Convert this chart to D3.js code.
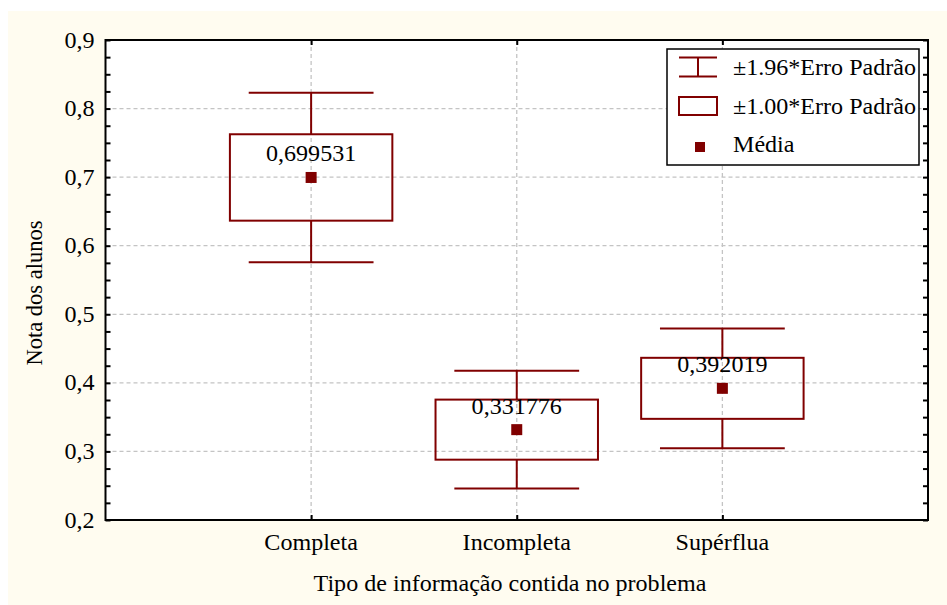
<!DOCTYPE html>
<html>
<head>
<meta charset="utf-8">
<script src="https://cdn.jsdelivr.net/npm/d3@7"></script>
<style>
  html, body { margin: 0; padding: 0; background: #fff; }
  svg { display: block; }
</style>
</head>
<body>
<div id="vis"></div>
<script>
// values
var categories = ['Completa', 'Incompleta', 'Supérflua'];
var means = [0.699531, 0.331776, 0.392019];
var stdErrors = [0.063, 0.0438, 0.0445];
var yTicks = [0.2, 0.3, 0.4, 0.5, 0.6, 0.7, 0.8, 0.9];
var legendLabels = ['±1.96*Erro Padrão', '±1.00*Erro Padrão', 'Média'];
var whiskerMult = 1.96;
var boxMult = 1.0;

var width = 947;
var height = 605;
var margin = { top: 40, left: 105.5, bottom: 85, right: 19 };
var innerW = width - margin.left - margin.right;
var innerH = height - margin.top - margin.bottom;

var red = '#800000';
var fontFamily = '"Liberation Serif", "Times New Roman", serif';
var fontSize = 22.5;
var sx = 1.07; // the original text is a bit wide

var ptBR = d3.formatLocale({ decimal: ',', thousands: '.', grouping: [3], currency: ['', ''] });
var fmtTick = ptBR.format('.1f');
var fmtMean = ptBR.format('.6f');

var svg = d3.select('#vis').append('svg')
  .attr('width', width)
  .attr('height', height);

// cream page background
svg.append('rect')
  .attr('x', 8)
  .attr('y', 11)
  .attr('width', width - 8)
  .attr('height', height - 11)
  .attr('fill', '#fffcf0');

var g = svg.append('g')
  .attr('transform', 'translate(' + margin.left + ',' + margin.top + ')');

var x = d3.scalePoint().domain(categories).range([0, innerW]).padding(1);
var y = d3.scaleLinear().domain([0.2, 0.9]).range([innerH, 0]);

g.append('rect')
  .attr('width', innerW)
  .attr('height', innerH)
  .attr('fill', '#fff');

// dashed grid
g.selectAll('.hgrid')
  .data(yTicks.slice(1, -1))
  .enter()
  .append('line')
  .attr('class', 'hgrid')
  .attr('x1', 0)
  .attr('x2', innerW)
  .attr('y1', (d) => y(d))
  .attr('y2', (d) => y(d));

g.selectAll('.vgrid')
  .data(categories)
  .enter()
  .append('line')
  .attr('class', 'vgrid')
  .attr('x1', (d) => x(d))
  .attr('x2', (d) => x(d))
  .attr('y1', 0)
  .attr('y2', innerH);

g.selectAll('.hgrid, .vgrid')
  .attr('stroke', '#c4c4c4')
  .attr('stroke-width', 1.3)
  .attr('stroke-dasharray', '4,3');

// inward ticks on all four sides
var minorTicks = d3.range(0, 29).map((i) => 0.2 + i * 0.025);

function tickAxis(axis, tx, ty) {
  var a = g.append('g')
    .attr('transform', 'translate(' + tx + ',' + ty + ')')
    .call(axis.tickSizeInner(-5).tickSizeOuter(0).tickFormat(''));
  a.select('.domain').remove();
  a.selectAll('line').attr('stroke', '#000').attr('stroke-width', 2);
}

tickAxis(d3.axisLeft(y).tickValues(minorTicks), 0, 0);
tickAxis(d3.axisRight(y).tickValues(minorTicks), innerW, 0);
tickAxis(d3.axisTop(x), 0, 0);
tickAxis(d3.axisBottom(x), 0, innerH);

g.append('rect')
  .attr('width', innerW)
  .attr('height', innerH)
  .attr('fill', 'none')
  .attr('stroke', '#000')
  .attr('stroke-width', 2);

function addText(parent, txt, px, py, anchor) {
  return parent.append('text')
    .attr('transform', 'translate(' + px + ',' + py + ') scale(' + sx + ',1)')
    .attr('text-anchor', anchor)
    .attr('font-family', fontFamily)
    .attr('font-size', fontSize)
    .attr('fill', '#000')
    .text(txt);
}

// y tick labels
yTicks.forEach(function (t) {
  addText(g, fmtTick(t), -11, y(t) + 7.5, 'end');
});

// category labels
categories.forEach(function (c) {
  addText(g, c, x(c), innerH + 30, 'middle');
});

// axis titles
addText(svg, 'Tipo de informação contida no problema', 510, 591, 'middle');

svg.append('text')
  .attr('transform', 'translate(42,293) rotate(-90)')
  .attr('text-anchor', 'middle')
  .attr('font-family', fontFamily)
  .attr('font-size', fontSize)
  .text('Nota dos alunos');

// boxes, whiskers and means
var boxW = x.step() * 0.79;
var capW = x.step() * 0.607;

categories.forEach(function (c, i) {
  var cx = x(c);
  var m = means[i];
  var se = stdErrors[i];
  var boxTop = y(m + boxMult * se);
  var boxBot = y(m - boxMult * se);
  var wTop = y(m + whiskerMult * se);
  var wBot = y(m - whiskerMult * se);

  var bg = g.append('g')
    .attr('fill', 'none')
    .attr('stroke', red)
    .attr('stroke-width', 2);

  bg.append('line').attr('x1', cx).attr('x2', cx).attr('y1', wTop).attr('y2', boxTop);
  bg.append('line').attr('x1', cx).attr('x2', cx).attr('y1', boxBot).attr('y2', wBot);
  bg.append('line').attr('x1', cx - capW / 2).attr('x2', cx + capW / 2).attr('y1', wTop).attr('y2', wTop);
  bg.append('line').attr('x1', cx - capW / 2).attr('x2', cx + capW / 2).attr('y1', wBot).attr('y2', wBot);

  bg.append('rect')
    .attr('x', cx - boxW / 2)
    .attr('y', boxTop)
    .attr('width', boxW)
    .attr('height', boxBot - boxTop);

  g.append('rect')
    .attr('x', cx - 5.5)
    .attr('y', y(m) - 5.5)
    .attr('width', 11)
    .attr('height', 11)
    .attr('fill', red);

  addText(g, fmtMean(m), cx, y(m) - 16, 'middle');
});

// legend
var lg = svg.append('g').attr('transform', 'translate(667,49)');

lg.append('rect')
  .attr('width', 252)
  .attr('height', 116)
  .attr('fill', '#fff')
  .attr('stroke', '#000')
  .attr('stroke-width', 1.5);

var sym = lg.append('g')
  .attr('fill', 'none')
  .attr('stroke', red)
  .attr('stroke-width', 2);

sym.append('line').attr('x1', 12).attr('x2', 50).attr('y1', 8.5).attr('y2', 8.5);
sym.append('line').attr('x1', 12).attr('x2', 50).attr('y1', 27.5).attr('y2', 27.5);
sym.append('line').attr('x1', 31).attr('x2', 31).attr('y1', 8.5).attr('y2', 27.5);
sym.append('rect').attr('x', 12).attr('y', 48).attr('width', 38).attr('height', 18);

lg.append('rect')
  .attr('x', 28)
  .attr('y', 93)
  .attr('width', 10)
  .attr('height', 10)
  .attr('fill', red);

var rowBase = [26, 64.5, 103];
legendLabels.forEach(function (l, i) {
  addText(lg, l, 66, rowBase[i], 'start');
});
</script>
</body>
</html>
